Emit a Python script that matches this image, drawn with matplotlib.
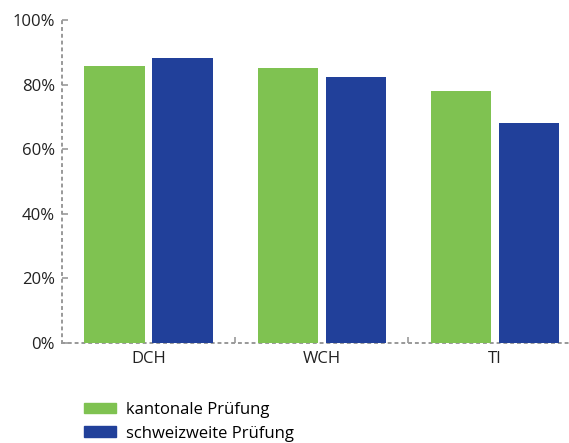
import matplotlib
matplotlib.use("Agg")
import matplotlib.pyplot as plt
from matplotlib.patches import Patch
import numpy as np

categories = ["DCH", "WCH", "TI"]
kantonal = [85.8, 85.1, 78.0]
schweizweit = [88.2, 82.5, 68.2]
series_labels = ["kantonale Prüfung", "schweizweite Prüfung"]
yticks = [0, 20, 40, 60, 80, 100]
ytick_labels = ["0%", "20%", "40%", "60%", "80%", "100%"]

green = "#7FC251"
blue = "#21409A"
gray = "#999999"

plt.rcParams["font.family"] = ["Open Sans", "DejaVu Sans"]

fig = plt.figure(figsize=(5.69, 4.43), dpi=100)
ax = fig.add_axes([62/569, 1-343/443, 1-62/569, (343-20)/443])

x = np.arange(len(categories))
w = 0.347
off = 0.046/2 + w/2
ax.bar(x - off, kantonal, width=w, color=green, zorder=3)
ax.bar(x + off, schweizweit, width=w, color=blue, zorder=3)

ax.set_xlim(-0.5, 2.43)
ax.set_ylim(0, 100)
ax.set_yticks(yticks)
ax.set_yticklabels(ytick_labels, fontsize=12, color="#222222")
ax.set_xticks(x)
ax.set_xticklabels(categories, fontsize=12, color="#222222")
ax.set_xticks([0.5, 1.5], minor=True)

for s in ["top", "right"]:
    ax.spines[s].set_visible(False)
for s in ["left", "bottom"]:
    ax.spines[s].set_linestyle((0, (1, 2.5)))
    ax.spines[s].set_color(gray)
    ax.spines[s].set_linewidth(1.4)

ax.tick_params(axis="y", direction="in", length=4, width=1.2, color=gray, pad=5)
ax.tick_params(axis="x", which="major", length=0, pad=6)
ax.tick_params(axis="x", which="minor", direction="in", length=4, width=1.2, color=gray)

handles = [Patch(color=green), Patch(color=blue)]
fig.legend(handles, series_labels, loc="upper left", bbox_to_anchor=(84/569, 1-402/443),
           frameon=False, fontsize=12, handlelength=1.9, handleheight=0.6,
           labelspacing=0.45, handletextpad=0.6, borderaxespad=0, borderpad=0)

fig.savefig("out.png", dpi=100)
